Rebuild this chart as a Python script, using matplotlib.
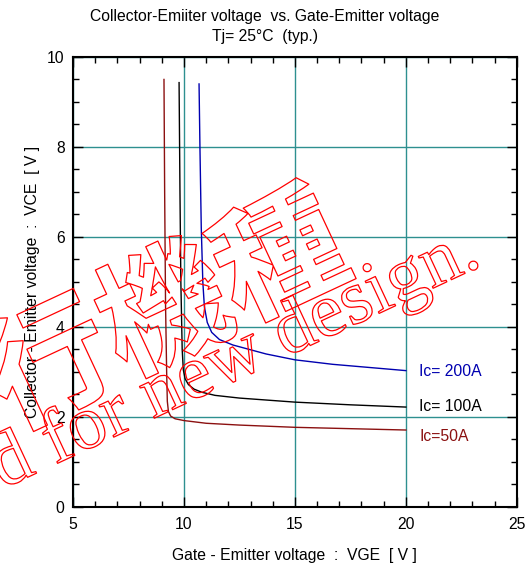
import matplotlib
matplotlib.use("Agg")
import matplotlib.pyplot as plt
import matplotlib.patheffects as pe
from matplotlib.ticker import MultipleLocator

plt.rcParams['font.family'] = ['Liberation Sans', 'DejaVu Sans']

# curve data (VGE [V], VCE [V])
vge_50 = [9.10, 9.13, 9.17, 9.22, 9.25, 9.30, 9.40, 9.60, 10.0, 11.0, 12.5, 15.0, 17.5, 20.0]
vce_50 = [9.50, 7.00, 4.50, 3.00, 2.35, 2.12, 2.02, 1.96, 1.92, 1.86, 1.82, 1.77, 1.74, 1.71]

vge_100 = [9.78, 9.82, 9.86, 9.92, 9.97, 10.05, 10.20, 10.45, 10.80, 11.40, 12.50, 15.0, 17.5, 20.0]
vce_100 = [9.43, 7.00, 5.00, 3.50, 3.05, 2.85, 2.72, 2.62, 2.55, 2.48, 2.42, 2.33, 2.27, 2.22]

vge_200 = [10.68, 10.72, 10.78, 10.85, 10.92, 11.05, 11.25, 11.60, 12.20, 13.70, 15.0, 16.7, 20.0]
vce_200 = [9.40, 8.00, 6.20, 5.00, 4.45, 4.10, 3.88, 3.72, 3.60, 3.40, 3.27, 3.17, 3.03]

curve_labels = ["Ic=50A", "Ic= 100A", "Ic= 200A"]
label_y = [1.56, 2.24, 3.0]
curve_colors = ["#8b1010", "black", "#0000b0"]

fs = 11.3

fig = plt.figure(figsize=(5.29, 5.65), dpi=100)
ax = fig.add_axes([0.138, 0.1027, 0.839, 0.7965])

ax.plot(vge_50, vce_50, color=curve_colors[0], lw=1)
ax.plot(vge_100, vce_100, color=curve_colors[1], lw=1)
ax.plot(vge_200, vce_200, color=curve_colors[2], lw=1)

for lab, yy, c in zip(curve_labels, label_y, curve_colors):
    ax.text(20.6, yy, lab, color=c, fontsize=fs, va='center', ha='left')

ax.set_xlim(5, 25)
ax.set_ylim(0, 10)
ax.xaxis.set_major_locator(MultipleLocator(5))
ax.xaxis.set_minor_locator(MultipleLocator(1))
ax.yaxis.set_major_locator(MultipleLocator(2))
ax.yaxis.set_minor_locator(MultipleLocator(0.5))
ax.tick_params(which='both', direction='in', top=True, right=True, labelsize=fs, width=1)
ax.tick_params(which='major', length=7)
ax.tick_params(which='minor', length=4)
ax.tick_params(axis='x', pad=7)
ax.tick_params(axis='y', pad=6)
ax.grid(True, which='major', color='#2e9090', lw=1)
for s in ax.spines.values():
    s.set_linewidth(1.5)

ax.set_xlabel("Gate - Emitter voltage  :  VGE  [ V ]", fontsize=fs, labelpad=12)
ax.set_ylabel("Collector - Emitter voltage  :  VCE  [ V ]", fontsize=fs, labelpad=5)

fig.text(0.5, 0.970, "Collector-Emiiter voltage  vs. Gate-Emitter voltage", ha='center', va='center', fontsize=fs)
fig.text(0.5, 0.935, "Tj= 25°C  (typ.)", ha='center', va='center', fontsize=fs)

# hollow red watermark
outline = [pe.Stroke(linewidth=0.9, foreground='red')]
fig.text(0.204, 0.393, "移行機種", rotation=25, rotation_mode='anchor', ha='center', va='center',
         fontsize=92, weight='bold', color='none', family=['Noto Sans CJK JP'],
         path_effects=outline, zorder=10)
fig.text(0.913, 0.531, "Not recommended for new design.", rotation=25, rotation_mode='anchor',
         ha='right', va='baseline', fontsize=55, color='none', family=['Liberation Serif'],
         path_effects=outline, zorder=10)

fig.savefig("out.png", dpi=100)
